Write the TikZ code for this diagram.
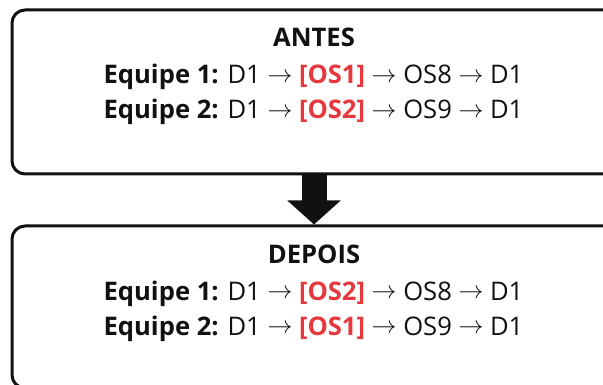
\documentclass[tikz,border=0pt]{standalone}
\usepackage{fontspec}
\setmainfont{Open Sans}[BoldFont={Open Sans Bold}]
\usetikzlibrary{arrows.meta}
\definecolor{osred}{RGB}{230,57,62}
\definecolor{ink}{RGB}{17,17,17}
\newcommand{\myarr}{\raisebox{1.5pt}{$\rightarrow$}}
\newcommand{\osr}[1]{\textcolor{osred}{\textbf{#1}}}
\tikzset{
  panel/.style={draw=ink, line width=3pt, rounded corners=13pt, fill=white, inner sep=0pt},
  txt/.style={anchor=base, inner sep=0pt, text=ink, font=\fontsize{25.6}{30}\selectfont},
  bigarrow/.style={draw=ink, line width=25pt, -{Triangle[length=24pt,width=52pt]}}
}
\begin{document}
\begin{tikzpicture}[x=1pt,y=-1pt]
\clip (0,0) rectangle (603,385);
\fill[white] (0,0) rectangle (603,385);
\node[panel, minimum width=612pt, minimum height=164pt] (antes) at (318,92) {};
\node[panel, minimum width=612pt, minimum height=162pt] (depois) at (318,307) {};
\node[txt] (t1) at (314,47) {\textbf{ANTES}};
\node[txt] (a1) at (313.5,84) {\textbf{Equipe 1:} D1 \myarr{} \osr{[OS1]} \myarr{} OS8 \myarr{} D1};
\node[txt] (a2) at (313.5,119) {\textbf{Equipe 2:} D1 \myarr{} \osr{[OS2]} \myarr{} OS9 \myarr{} D1};
\node[txt] (t2) at (314,263) {\textbf{DEPOIS}};
\node[txt] (b1) at (313.5,300) {\textbf{Equipe 1:} D1 \myarr{} \osr{[OS2]} \myarr{} OS8 \myarr{} D1};
\node[txt] (b2) at (313.5,335) {\textbf{Equipe 2:} D1 \myarr{} \osr{[OS1]} \myarr{} OS9 \myarr{} D1};
\draw[bigarrow] (antes.south -| t1.base) -- (depois.north -| t1.base);
\end{tikzpicture}
\end{document}
